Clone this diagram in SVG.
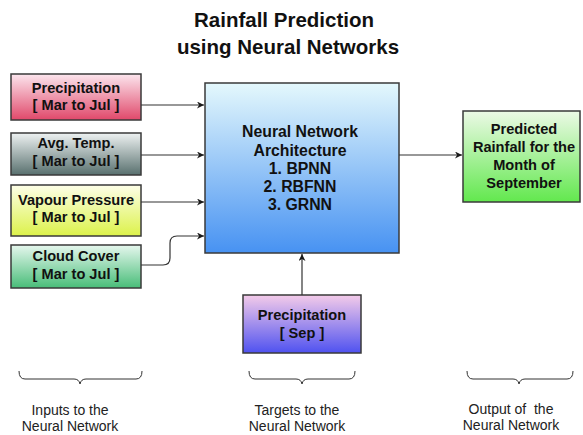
<svg xmlns="http://www.w3.org/2000/svg" width="583" height="435" viewBox="0 0 583 435">
<defs>
<linearGradient id="g1" x1="0" y1="0" x2="0" y2="1"><stop offset="0" stop-color="#fce6ee"/><stop offset="1" stop-color="#e0486a"/></linearGradient>
<linearGradient id="g2" x1="0" y1="0" x2="0" y2="1"><stop offset="0" stop-color="#eef2f2"/><stop offset="1" stop-color="#58706e"/></linearGradient>
<linearGradient id="g3" x1="0" y1="0" x2="0" y2="1"><stop offset="0" stop-color="#fdfee8"/><stop offset="1" stop-color="#dcf24a"/></linearGradient>
<linearGradient id="g4" x1="0" y1="0" x2="0" y2="1"><stop offset="0" stop-color="#e6f7ee"/><stop offset="1" stop-color="#48bd78"/></linearGradient>
<linearGradient id="gnn" x1="0" y1="0" x2="0" y2="1"><stop offset="0" stop-color="#e4f8fc"/><stop offset="1" stop-color="#4792f2"/></linearGradient>
<linearGradient id="gout" x1="0" y1="0" x2="0" y2="1"><stop offset="0" stop-color="#ecf9e6"/><stop offset="1" stop-color="#62e84e"/></linearGradient>
<linearGradient id="gsep" x1="0" y1="0" x2="0" y2="1"><stop offset="0" stop-color="#f4cbe9"/><stop offset="1" stop-color="#4f52f0"/></linearGradient>
<marker id="arr" viewBox="0 0 10 10" refX="10" refY="5" markerWidth="7" markerHeight="7" orient="auto" markerUnits="userSpaceOnUse"><path d="M0,0 L10,5 L0,10 L3,5 z" fill="#1a1a1a"/></marker>
</defs>
<style>
.box{stroke:#3a3a3a;stroke-width:1.5}
.bt{font-family:"Liberation Sans",Arial,sans-serif;font-weight:bold;font-size:14.6px;fill:#111;text-anchor:middle}
.nt{font-family:"Liberation Sans",Arial,sans-serif;font-weight:bold;font-size:15.8px;fill:#111;text-anchor:middle}
.title{font-family:"Liberation Sans",Arial,sans-serif;font-weight:bold;font-size:20.5px;fill:#111;text-anchor:middle}
.lab{font-family:"Liberation Sans",Arial,sans-serif;font-size:14px;fill:#222;text-anchor:middle;white-space:pre}
.con{fill:none;stroke:#333;stroke-width:1.2}
.brace{fill:none;stroke:#333;stroke-width:1}
</style>
<rect width="583" height="435" fill="#fff"/>
<g id="title">
<text class="title" x="284" y="27">Rainfall Prediction</text>
<text class="title" x="288" y="54">using Neural Networks</text>
</g>
<g id="in-precip">
<rect class="box" x="11" y="74" width="130" height="46" fill="url(#g1)"/>
<text class="bt" x="76" y="93">Precipitation</text>
<text class="bt" x="76" y="110">[ Mar to Jul ]</text>
</g>
<g id="in-temp">
<rect class="box" x="11" y="133" width="130" height="42" fill="url(#g2)"/>
<text class="bt" x="76" y="148">Avg. Temp.</text>
<text class="bt" x="76" y="166">[ Mar to Jul ]</text>
</g>
<g id="in-vapour">
<rect class="box" x="11" y="185" width="130" height="51" fill="url(#g3)"/>
<text class="bt" x="76" y="205">Vapour Pressure</text>
<text class="bt" x="76" y="222">[ Mar to Jul ]</text>
</g>
<g id="in-cloud">
<rect class="box" x="11" y="245" width="130" height="43" fill="url(#g4)"/>
<text class="bt" x="76" y="261">Cloud Cover</text>
<text class="bt" x="76" y="279">[ Mar to Jul ]</text>
</g>
<g id="nn">
<rect class="box" x="205" y="83" width="194" height="170" fill="url(#gnn)"/>
<text class="nt" x="300" y="137">Neural Network</text>
<text class="nt" x="300" y="156">Architecture</text>
<text class="nt" x="300" y="174">1. BPNN</text>
<text class="nt" x="300" y="192">2. RBFNN</text>
<text class="nt" x="300" y="210">3. GRNN</text>
</g>
<g id="output">
<rect class="box" x="463" y="111" width="117" height="91" fill="url(#gout)"/>
<text class="bt" x="524" y="134">Predicted</text>
<text class="bt" x="524" y="152">Rainfall for the</text>
<text class="bt" x="524" y="170">Month of</text>
<text class="bt" x="524" y="188">September</text>
</g>
<g id="target">
<rect class="box" x="243" y="295" width="118" height="58" fill="url(#gsep)"/>
<text class="bt" x="302" y="320">Precipitation</text>
<text class="bt" x="302" y="338">[ Sep ]</text>
</g>
<g id="connectors">
<path class="con" d="M141,105 H204" marker-end="url(#arr)"/>
<path class="con" d="M141,155 H204" marker-end="url(#arr)"/>
<path class="con" d="M141,202 H204" marker-end="url(#arr)"/>
<path class="con" d="M141,265 H163 Q170,265 170,258 V243 Q170,236 177,236 H204" marker-end="url(#arr)"/>
<path class="con" d="M399,155 H462" marker-end="url(#arr)"/>
<path class="con" d="M302,295 V254" marker-end="url(#arr)"/>
</g>
<g id="braces">
<path class="brace" d="M19,371 Q19,379 25,379 H74 Q79,379 80,384 Q81,379 86,379 H136 Q142,379 142,371"/>
<path class="brace" d="M249,371 Q249,379 255,379 H296 Q301,379 302,384 Q303,379 308,379 H349 Q355,379 355,371"/>
<path class="brace" d="M467,371 Q467,379 473,379 H513 Q518,379 519,384 Q520,379 525,379 H567 Q573,379 573,371"/>
</g>
<g id="labels">
<text class="lab" x="70" y="415">Inputs to the</text>
<text class="lab" x="70" y="431">Neural Network</text>
<text class="lab" x="297" y="415">Targets to the</text>
<text class="lab" x="297" y="431">Neural Network</text>
<text class="lab" x="511" y="414">Output of  the</text>
<text class="lab" x="511" y="430">Neural Network</text>
</g>
</svg>
